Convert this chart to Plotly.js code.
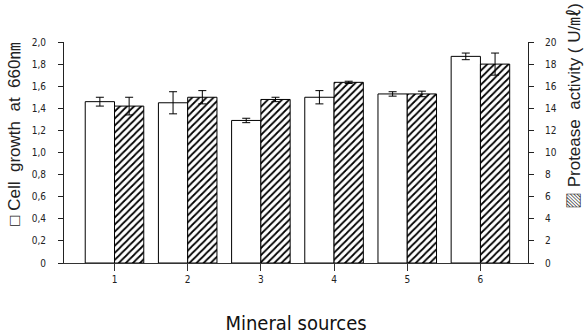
<!DOCTYPE html>
<html><head><meta charset="utf-8">
<script src="https://cdn.plot.ly/plotly-3.0.1.min.js"></script>
<style>html,body{margin:0;padding:0;background:#fff}#c{width:585px;height:335px}</style>
</head><body><div id="c"></div>
<script>
var categories = [1, 2, 3, 4, 5, 6];
var cellGrowth = [1.46, 1.45, 1.29, 1.50, 1.53, 1.87];
var cellGrowthErr = [0.04, 0.10, 0.02, 0.06, 0.02, 0.03];
var protease = [14.2, 15.0, 14.8, 16.35, 15.3, 18.0];
var proteaseErr = [0.8, 0.6, 0.2, 0.1, 0.25, 1.0];
var leftTickVals = [0, 0.2, 0.4, 0.6, 0.8, 1.0, 1.2, 1.4, 1.6, 1.8, 2.0];
var leftTickText = ["0", "0,2", "0,4", "0,6", "0,8", "1,0", "1,2", "1,4", "1,6", "1,8", "2,0"];
var rightTickVals = [0, 2, 4, 6, 8, 10, 12, 14, 16, 18, 20];
var leftTitle = '\u25A1 Cell  growth  at  660\u339A';
var rightTitle = '\u25A8 Protease  activity ( U/\u3396)';
var xTitle = 'Mineral sources';

var narrow = "DejaVu Sans Condensed, Liberation Sans Narrow, sans-serif";
var wide = "Liberation Sans, Noto Sans CJK KR, sans-serif";
var traces = [
  {type: 'bar', x: categories, y: cellGrowth, yaxis: 'y', width: 0.4, offset: -0.4,
   marker: {color: 'white', line: {color: 'black', width: 1}},
   error_y: {type: 'data', array: cellGrowthErr, visible: true, color: 'black', thickness: 1, width: 4},
   showlegend: false, hoverinfo: 'skip'},
  {type: 'bar', x: categories, y: protease, yaxis: 'y2', width: 0.4, offset: 0,
   marker: {color: 'white', line: {color: 'black', width: 1},
            pattern: {shape: '/', size: 5, solidity: 0.35, fgcolor: 'black', bgcolor: 'white'}},
   error_y: {type: 'data', array: proteaseErr, visible: true, color: 'black', thickness: 1, width: 4},
   showlegend: false, hoverinfo: 'skip'}
];
var layout = {
  width: 585, height: 335,
  margin: {l: 64, r: 57, t: 42, b: 72},
  paper_bgcolor: 'white', plot_bgcolor: 'white',
  font: {family: narrow, color: '#222', size: 10},
  showlegend: false,
  xaxis: {type: 'linear', range: [0.31, 6.65], tickvals: categories, ticktext: categories.map(String),
          showline: true, linecolor: '#333', linewidth: 1, ticks: 'outside', ticklen: 7, tickcolor: '#333',
          showgrid: false, zeroline: false, tickfont: {size: 10, family: narrow},
          title: {text: xTitle, font: {size: 20, family: narrow, color: '#111'}, standoff: 31}},
  yaxis: {range: [0, 2.0], tickvals: leftTickVals, ticktext: leftTickText,
          showline: true, linecolor: '#222', linewidth: 1, ticks: 'outside', ticklen: 5, tickcolor: '#222',
          showgrid: false, zeroline: false, tickfont: {size: 10, family: narrow}, ticklabelstandoff: 10},
  yaxis2: {range: [0, 20], tickvals: rightTickVals, overlaying: 'y', side: 'right',
          showline: true, linecolor: '#222', linewidth: 1, ticks: 'outside', ticklen: 5, tickcolor: '#222',
          showgrid: false, zeroline: false, tickfont: {size: 10, family: narrow}, ticklabelstandoff: 9},
  annotations: [
    {text: leftTitle, xref: 'paper', yref: 'paper', x: -0.106, y: 0.584, xanchor: 'center', yanchor: 'middle',
     textangle: -90, showarrow: false, font: {size: 17, family: wide, color: '#222'}},
    {text: rightTitle, xref: 'paper', yref: 'paper', x: 1.099, y: 0.71, xanchor: 'center', yanchor: 'middle',
     textangle: -90, showarrow: false, font: {size: 17, family: wide, color: '#222'}}
  ],
  bargap: 0
};
Plotly.newPlot('c', traces, layout, {staticPlot: true, displayModeBar: false});
</script></body></html>
